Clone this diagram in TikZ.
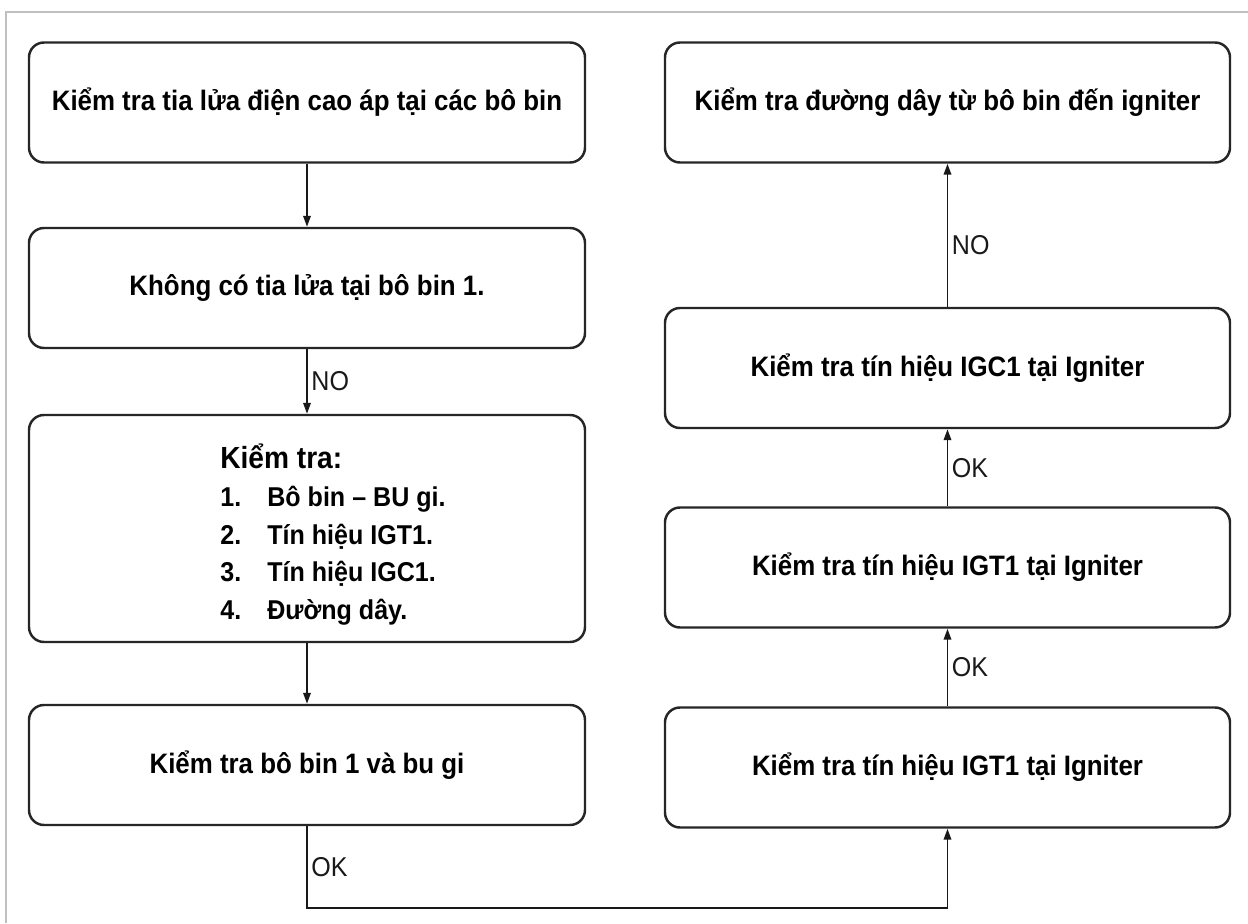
\documentclass[tikz,border=0pt]{standalone}
\usepackage{fontspec}
\setmainfont{Liberation Sans}[FakeStretch=0.92]
\usepackage{tikz}
\usetikzlibrary{arrows.meta}
\pgfdeclarelayer{bg}
\pgfsetlayers{bg,main}
\tikzset{
        box/.style={shape=rectangle, rounded corners=0.3cm, draw=black!85, line width=1.4pt,
                fill=white, minimum width=11.12cm, minimum height=2.4cm,
                font=\fontsize{16}{19}\selectfont\bfseries},
        rbox/.style={box, minimum width=11.3cm},
        flow/.style={line width=1.1pt, black!90, -{Triangle[length=2.2mm, width=1.5mm]}},
        lbl/.style={right, inner sep=2pt, font=\fontsize{15.5}{18}\selectfont}
}

\begin{document}
\begin{tikzpicture}
        \useasboundingbox (0cm, 0cm) rectangle (24.960000cm, 18.460000cm);
        \draw [black!25, line width=0.8pt] (0.120000cm, 0cm) -- (0.120000cm, 18.220000cm) -- (24.960000cm, 18.220000cm);

        \node (A) [box] at (6.140000cm, 16.410000cm) {Kiểm tra tia lửa điện cao áp tại các bô bin};
        \node (B) [box] at (6.140000cm, 12.700000cm) {Không có tia lửa tại bô bin 1.};
        \node (C) [box, minimum height=4.54cm] at (6.140000cm, 7.890000cm) {};
        \node (list) [anchor=north west, inner sep=0pt, align=left,
                font=\fontsize{15.5}{21.3}\selectfont\bfseries] at (4.400000cm, 9.600000cm)
                {{\fontsize{17.4}{21}\selectfont Kiểm tra:}\\[0.8pt]
                \makebox[0.94cm][l]{1.}Bô bin – BU gi.\\
                \makebox[0.94cm][l]{2.}Tín hiệu IGT1.\\
                \makebox[0.94cm][l]{3.}Tín hiệu IGC1.\\
                \makebox[0.94cm][l]{4.}Đường dây.};
        \node (D) [box] at (6.140000cm, 3.160000cm) {Kiểm tra bô bin 1 và bu gi};

        \node (E) [rbox] at (18.950000cm, 16.410000cm) {Kiểm tra đường dây từ bô bin đến igniter};
        \node (F) [rbox] at (18.950000cm, 11.100000cm) {Kiểm tra tín hiệu IGC1 tại Igniter};
        \node (G) [rbox] at (18.950000cm, 7.110000cm) {Kiểm tra tín hiệu IGT1 tại Igniter};
        \node (H) [rbox] at (18.950000cm, 3.110000cm) {Kiểm tra tín hiệu IGT1 tại Igniter};

        \begin{pgfonlayer}{bg}
                \draw (A) edge [flow] (B);
                \draw (B) edge [flow] node [lbl] {NO} (C);
                \draw (C) edge [flow] (D);
                \draw [flow] (D.south) -- ++(0cm, -1.640000cm) node [lbl, midway] {OK} -| (H.south);
                \draw (H) edge [flow] node [lbl] {OK} (G);
                \draw (G) edge [flow] node [lbl] {OK} (F);
                \draw (F) edge [flow] node [lbl, pos=0.43] {NO} (E);
        \end{pgfonlayer}
\end{tikzpicture}
\end{document}
